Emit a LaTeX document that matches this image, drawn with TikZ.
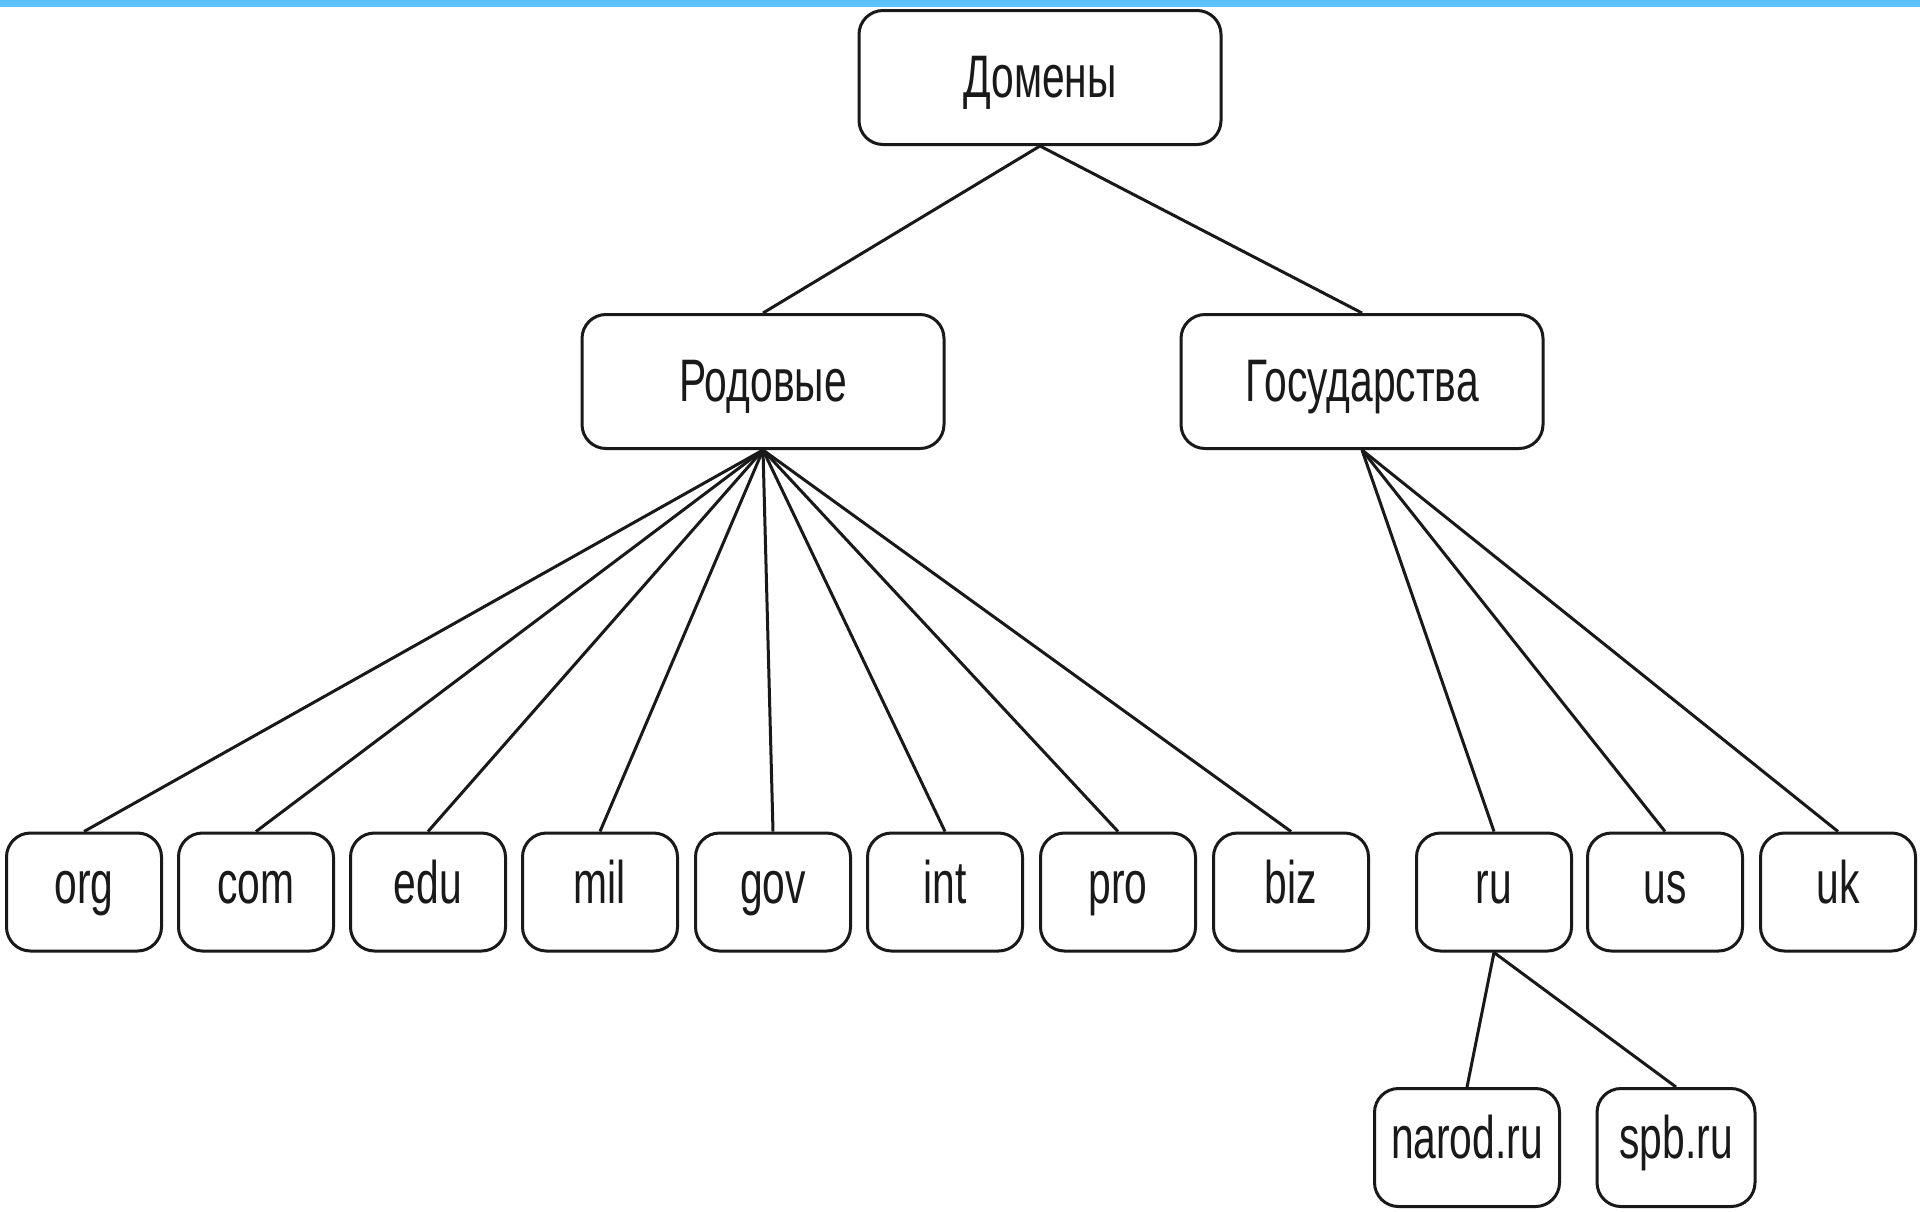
\documentclass[tikz,border=0pt]{standalone}
\usepackage{fontspec}
\setmainfont{Liberation Sans}[FakeStretch=0.68]
\definecolor{baredge}{RGB}{92,192,250}
\definecolor{barmid}{RGB}{74,144,245}
\begin{document}
\begin{tikzpicture}[x=0.5pt,y=-0.5pt,
  box/.style={draw=black!90,line width=1.5pt,rounded corners=12pt,fill=white,
    inner sep=0pt,text=black!90,font=\fontsize{30}{36}\selectfont},
  leaf/.style={box,minimum width=77.5pt,minimum height=59pt,text height=20pt,text depth=9pt},
  big/.style={box,minimum width=181pt,minimum height=67pt,text height=24pt,text depth=4.5pt},
  link/.style={draw=black!90,line width=1.5pt}]
\fill[white] (0,0) rectangle (1920,1211);
\useasboundingbox (0,0) rectangle (1920,1211);
\shade[left color=baredge,middle color=barmid,right color=baredge] (0,0) rectangle (1920,6);
\node[big] (dom) at (1040,77.5) {Домены};
\node[big] (rod) at (763,381.5) {Родовые};
\node[big] (gos) at (1362,381.5) {Государства};
\node[leaf] (org) at (84,892) {org};
\node[leaf] (com) at (256,892) {com};
\node[leaf] (edu) at (428,892) {edu};
\node[leaf] (mil) at (600,892) {mil};
\node[leaf] (gov) at (773,892) {gov};
\node[leaf] (int) at (945,892) {int};
\node[leaf] (pro) at (1118,892) {pro};
\node[leaf] (biz) at (1291,892) {biz};
\node[leaf] (ru) at (1494,892) {ru};
\node[leaf] (us) at (1665,892) {us};
\node[leaf] (uk) at (1838,892) {uk};
\node[leaf,minimum width=92.5pt] (narod) at (1467,1147.5) {narod.ru};
\node[leaf,minimum width=79pt] (spb) at (1676,1147.5) {spb.ru};
\foreach \c in {rod,gos} \draw[link] (dom.south) -- (\c.north);
\foreach \c in {org,com,edu,mil,gov,int,pro,biz} \draw[link] (rod.south) -- (\c.north);
\foreach \c in {ru,us,uk} \draw[link] (gos.south) -- (\c.north);
\foreach \c in {narod,spb} \draw[link] (ru.south) -- (\c.north);
\end{tikzpicture}
\end{document}
